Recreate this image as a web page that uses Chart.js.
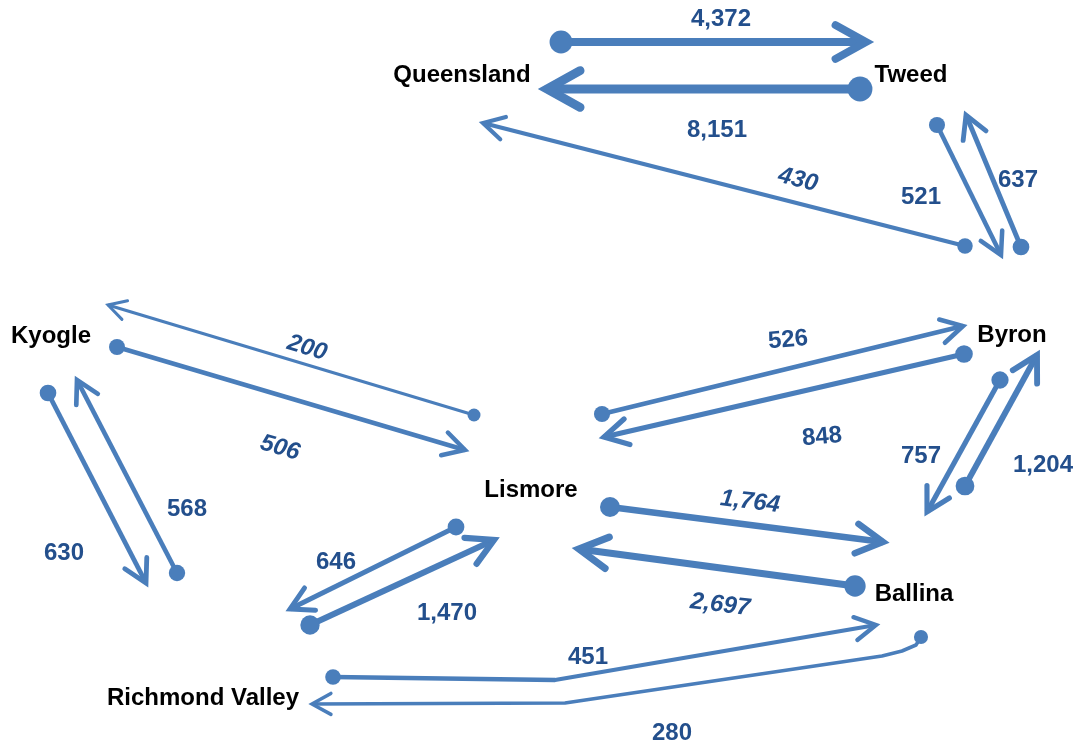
<!DOCTYPE html>
<html>
<head>
<meta charset="utf-8">
<script src="https://cdn.jsdelivr.net/npm/chart.js@4/dist/chart.umd.min.js"></script>
<style>
html,body{margin:0;padding:0;background:#fff;}
#flowChart{display:block;}
</style>
</head>
<body>
<canvas id="flowChart" width="1074" height="744"></canvas>
<script>

/* DATA */
const regions=["Queensland","Tweed","Kyogle","Byron","Lismore","Ballina","Richmond Valley"];

const flowFrom=["Queensland","Tweed","Tweed","Tweed","Byron","Lismore","Kyogle","Kyogle","Richmond Valley","Lismore","Byron","Byron","Ballina","Lismore","Ballina","Lismore","Richmond Valley","Richmond Valley","Ballina"];
const flowTo=["Tweed","Queensland","Queensland","Byron","Tweed","Kyogle","Lismore","Richmond Valley","Kyogle","Byron","Lismore","Ballina","Byron","Ballina","Lismore","Richmond Valley","Lismore","Ballina","Richmond Valley"];
const flowValues=[4372,8151,430,521,637,200,506,630,568,526,848,757,1204,1764,2697,646,1470,451,280];

/* LAYOUT (drawing coordinates of the map, not data) */
const regionPos={
    "Queensland":[462,75],
    "Tweed":[911,75],
    "Kyogle":[51,336],
    "Byron":[1012,335],
    "Lismore":[531,490],
    "Ballina":[914,594],
    "Richmond Valley":[203,698]
};

const flowPaths=[
    [[561,42],[866,42]],
    [[860,89],[547,89]],
    [[965,246],[483,123]],
    [[937,125],[1001,255]],
    [[1021,247],[966,115]],
    [[474,415],[108,305]],
    [[117,347],[465,450]],
    [[48,393],[146,583]],
    [[177,573],[77,380]],
    [[602,414],[963,326]],
    [[964,354],[604,437]],
    [[1000,380],[927,512]],
    [[965,486],[1037,355]],
    [[610,507],[883,542]],
    [[855,586],[579,549]],
    [[456,527],[290,609]],
    [[310,625],[494,540]],
    [[333,677],[555,680],[876,625]],
    [[921,637],[916,645],[902,651],[882,656],[565,703],[312,704]]
];

// x, y, rotation (deg), italic
const labelPos=[
    [721,19,0,false],
    [717,130,0,false],
    [798,180,14,true],
    [921,197,0,false],
    [1018,180,0,false],
    [307,348,17,true],
    [280,448,16,true],
    [64,553,0,false],
    [187,509,0,false],
    [788,340,-5,false],
    [822,437,-5,false],
    [921,456,0,false],
    [1043,465,0,false],
    [750,502,7,true],
    [720,605,7,true],
    [336,562,0,false],
    [447,613,0,false],
    [588,657,0,false],
    [672,733,0,false]
];

const lineColor="#4a7ebb";
const numColor="#234f8c";

function widthFor(v){
    return 3+1.6*Math.log(v/200);
}

/* DATASETS */
let datasets=flowValues.map((v,i)=>{
    let w=widthFor(v);
    let pts=flowPaths[i].map(p=>({x:p[0],y:p[1]}));
    return {
        label:flowFrom[i]+" → "+flowTo[i],
        data:pts,
        showLine:true,
        borderColor:lineColor,
        backgroundColor:lineColor,
        borderWidth:w,
        borderJoinStyle:"round",
        pointRadius:pts.map((p,k)=>k===0?w+3.5:0),
        pointHoverRadius:0,
        pointBorderWidth:0,
        tension:0,
        clip:false
    };
});

/* ARROWHEADS + TEXT */
const flowDecor={
    id:"flowDecor",
    afterDatasetsDraw(chart){
        let ctx=chart.ctx;
        ctx.save();
        chart.data.datasets.forEach((ds,i)=>{
            let pts=chart.getDatasetMeta(i).data;
            let a=pts[pts.length-2], b=pts[pts.length-1];
            let ang=Math.atan2(b.y-a.y,b.x-a.x);
            let w=ds.borderWidth;
            let len=11+3*w;
            let spread=Math.PI/6.2;
            ctx.strokeStyle=lineColor;
            ctx.lineWidth=w;
            ctx.lineCap="round";
            ctx.lineJoin="miter";
            ctx.beginPath();
            ctx.moveTo(b.x-len*Math.cos(ang-spread),b.y-len*Math.sin(ang-spread));
            ctx.lineTo(b.x,b.y);
            ctx.lineTo(b.x-len*Math.cos(ang+spread),b.y-len*Math.sin(ang+spread));
            ctx.stroke();
        });

        let xs=chart.scales.x, ys=chart.scales.y;
        ctx.textAlign="center";
        ctx.textBaseline="middle";

        // region names
        ctx.fillStyle="#000";
        ctx.font="bold 24px 'Liberation Sans', Arial, sans-serif";
        regions.forEach(r=>{
            let p=regionPos[r];
            ctx.fillText(r,xs.getPixelForValue(p[0]),ys.getPixelForValue(p[1]));
        });

        // flow values
        ctx.fillStyle=numColor;
        flowValues.forEach((v,i)=>{
            let L=labelPos[i];
            ctx.save();
            ctx.translate(xs.getPixelForValue(L[0]),ys.getPixelForValue(L[1]));
            ctx.rotate(L[2]*Math.PI/180);
            ctx.font=(L[3]?"italic ":"")+"bold 24px 'Liberation Sans', Arial, sans-serif";
            ctx.fillText(v.toLocaleString("en-US"),0,0);
            ctx.restore();
        });
        ctx.restore();
    }
};

new Chart(
document.getElementById("flowChart"),
{
    type:"scatter",
    data:{datasets:datasets},
    options:{
        responsive:false,
        animation:false,
        layout:{padding:0,autoPadding:false},
        plugins:{
            legend:{display:false},
            tooltip:{enabled:false}
        },
        scales:{
            x:{type:"linear",min:0,max:1074,display:false},
            y:{type:"linear",min:0,max:744,reverse:true,display:false}
        }
    },
    plugins:[flowDecor]
});
</script>
</body>
</html>
